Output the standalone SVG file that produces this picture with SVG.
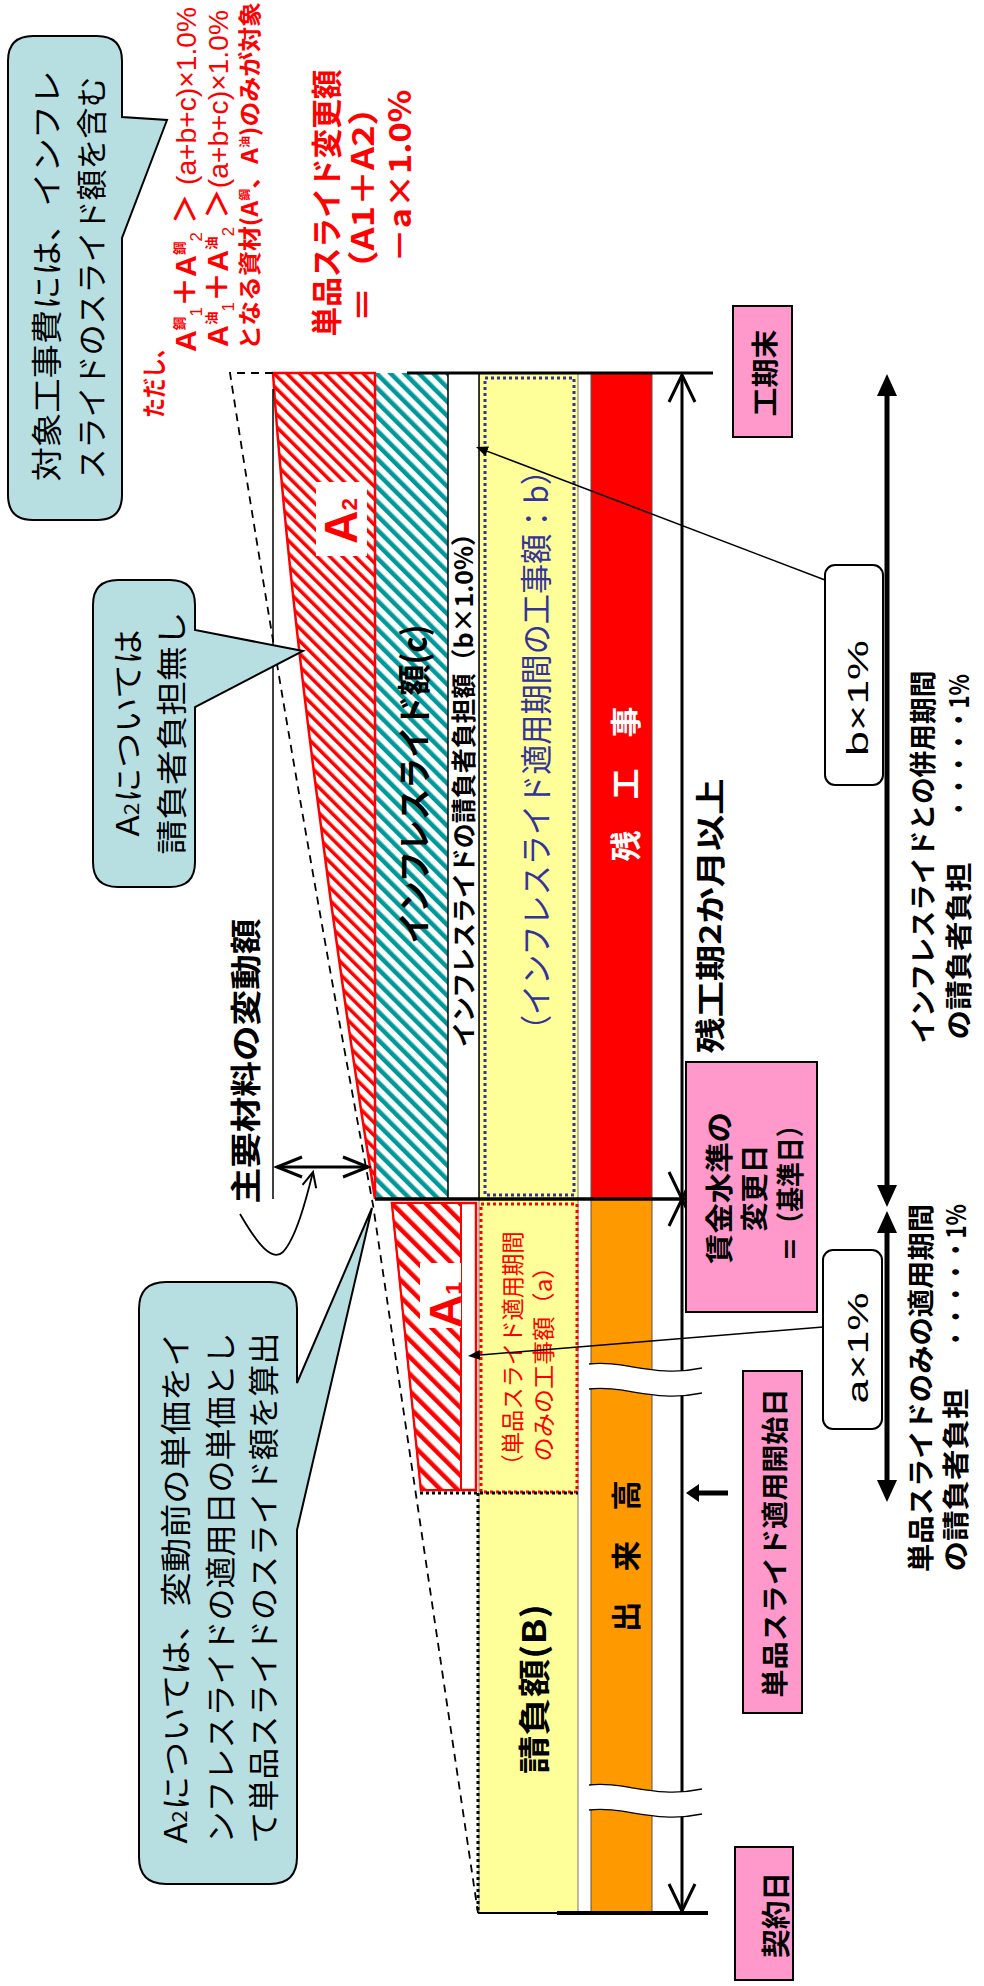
<svg xmlns="http://www.w3.org/2000/svg" width="984" height="1986" viewBox="0 0 984 1986">
<style>
text{font-family:"Noto Sans CJK JP","Noto Sans",sans-serif;}
.lat{font-family:"Liberation Sans","Noto Sans CJK JP",sans-serif;}
.b{font-weight:bold;}
.red{fill:#FF0000;}
.wht{fill:#FFFFFF;}
.blu{fill:#333399;}
.pink{fill:#FF99CC;stroke:#000;stroke-width:2;}
.callout{fill:#B7DFE2;stroke:#000;stroke-width:2;}
.rbox{fill:#FFFFFF;stroke:#000;stroke-width:2;}
.ln{stroke:#000;fill:none;}
.brk{fill:#FFFFFF;stroke:none;}
.brkl{fill:none;stroke:#000;stroke-width:1.3;}
</style>
<defs>
<pattern id="hatchRed" patternUnits="userSpaceOnUse" width="9" height="9" patternTransform="rotate(-45)"><rect width="9" height="9" fill="#fff"/><rect width="3.5" height="9" fill="#FF0000"/></pattern>
<pattern id="hatchTeal" patternUnits="userSpaceOnUse" width="10" height="10" patternTransform="rotate(-45)"><rect width="10" height="10" fill="#fff"/><rect width="4.5" height="10" fill="#009999"/></pattern>
<pattern id="hatchRedWide" patternUnits="userSpaceOnUse" width="12" height="12" patternTransform="rotate(-45)"><rect width="12" height="12" fill="#fff"/><rect width="4.5" height="12" fill="#FF0000"/></pattern>
<marker id="ahThick" markerUnits="userSpaceOnUse" viewBox="0 0 22 20" markerWidth="22" markerHeight="20" refX="6" refY="10" orient="auto-start-reverse"><path d="M0,0 L22,10 L0,20 Z" fill="#000"/></marker>
<marker id="ahSmall" markerUnits="userSpaceOnUse" viewBox="0 0 12 10" markerWidth="12" markerHeight="10" refX="6" refY="5" orient="auto"><path d="M0,0 L12,5 L0,10 Z" fill="#000"/></marker>
<marker id="ahMid" markerUnits="userSpaceOnUse" viewBox="0 0 13 18" markerWidth="13" markerHeight="18" refX="1" refY="9" orient="auto"><path d="M0,0 L13,9 L0,18 Z" fill="#000"/></marker>
<marker id="ahOpen" markerUnits="userSpaceOnUse" viewBox="0 0 30 30" markerWidth="30" markerHeight="30" refX="28" refY="15" orient="auto-start-reverse" overflow="visible"><path d="M1,2 L28,15 L1,28" fill="none" stroke="#000" stroke-width="3"/></marker>
<marker id="ahOpenS" markerUnits="userSpaceOnUse" viewBox="0 0 28 24" markerWidth="28" markerHeight="24" refX="26" refY="12" orient="auto-start-reverse" overflow="visible"><path d="M1,2 L26,12 L1,22" fill="none" stroke="#000" stroke-width="3"/></marker>
<marker id="ahOpenXS" markerUnits="userSpaceOnUse" viewBox="0 0 18 16" markerWidth="18" markerHeight="16" refX="16" refY="8" orient="auto" overflow="visible"><path d="M1,1 L16,8 L1,15" fill="none" stroke="#000" stroke-width="2"/></marker>
</defs>
<rect width="984" height="1986" fill="#FFFFFF"/>

<g id="band-yellow">
<rect x="479" y="373" width="99" height="1540" fill="#FFFF99" stroke="#777" stroke-width="1"/>
<rect x="485" y="378" width="89" height="817" fill="none" stroke="#333399" stroke-width="3" stroke-dasharray="3 3"/>
<text class="blu" font-size="32" text-anchor="middle" textLength="590" lengthAdjust="spacingAndGlyphs" transform="translate(548 750) rotate(-90)">（インフレスライド適用期間の工事額：b）</text>
<rect x="481" y="1204" width="96" height="288" fill="none" stroke="#FF0000" stroke-width="3" stroke-dasharray="3 3"/>
<text class="red" font-size="23" text-anchor="middle" textLength="245" lengthAdjust="spacingAndGlyphs" transform="translate(521 1354) rotate(-90)">（単品スライド適用期間</text>
<text class="red" font-size="23" text-anchor="middle" textLength="207" lengthAdjust="spacingAndGlyphs" transform="translate(552 1358) rotate(-90)">のみの工事額（a）</text>
<text class="b" font-size="32" text-anchor="middle" textLength="170" lengthAdjust="spacingAndGlyphs" transform="translate(546 1689) rotate(-90)">請負額(B)</text>
</g>

<g id="band-remaining">
<rect x="591" y="373" width="61" height="826" fill="#FF0000" stroke="#555" stroke-width="1"/>
<text class="b wht" font-size="31" text-anchor="middle" textLength="155" lengthAdjust="spacingAndGlyphs" transform="translate(637 784) rotate(-90)">残　工　事</text>
</g>

<g id="band-done">
<rect x="591" y="1199" width="61" height="714" fill="#FF9900" stroke="#555" stroke-width="1"/>
<text class="b" font-size="30" text-anchor="middle" textLength="152" lengthAdjust="spacingAndGlyphs" transform="translate(637 1556) rotate(-90)">出　来　高</text>
</g>

<g id="band-inflation">
<rect x="376" y="373" width="72" height="826" fill="url(#hatchTeal)"/>
<text class="b" font-size="34" text-anchor="middle" textLength="319" lengthAdjust="spacingAndGlyphs" transform="translate(427 784) rotate(-90)">インフレスライド額(c)</text>
</g>

<g id="band-burden">
<rect x="448" y="373" width="31" height="826" fill="#FFFFFF" stroke="#000" stroke-width="1.5"/>
<text class="b" font-size="25" text-anchor="middle" textLength="526" lengthAdjust="spacingAndGlyphs" transform="translate(473 784) rotate(-90)">インフレスライドの請負者負担額（b×1.0%）</text>
</g>

<g id="a2">
<path d="M273,373 H375 V1199 C335,950 288,600 273,373 Z" fill="url(#hatchRed)" stroke="#FF0000" stroke-width="2.5"/>
<rect x="316" y="482" width="51" height="74" fill="#FFFFFF"/>
<text class="lat b red" text-anchor="middle" textLength="46" lengthAdjust="spacingAndGlyphs" transform="translate(357 521) rotate(-90)"><tspan font-size="46">A</tspan><tspan font-size="22">2</tspan></text>
</g>

<g id="a1">
<path d="M392,1203 H476 V1490 H421 Z" fill="#FFFFFF" stroke="#FF0000" stroke-width="2.5"/>
<path d="M392,1203 H461 V1490 H421 Z" fill="url(#hatchRedWide)" stroke="#FF0000" stroke-width="2"/>
<rect x="420" y="1263" width="41" height="65" fill="#FFFFFF"/>
<text class="lat b red" text-anchor="middle" textLength="46" lengthAdjust="spacingAndGlyphs" transform="translate(461 1305) rotate(-90)"><tspan font-size="44">A</tspan><tspan font-size="22">1</tspan></text>
</g>

<g id="guides">
<path d="M420,1493 H578 M478,1493 V1913" fill="none" stroke="#000" stroke-width="3" stroke-dasharray="3 3"/>
<path d="M273,373 H230 Q290,760 373,1205 L478,1913" fill="none" stroke="#000" stroke-width="1.8" stroke-dasharray="8 6"/>
<path d="M273,389 V1199" class="ln" stroke-width="1.5"/>
<path d="M407,373 H713" class="ln" stroke-width="3"/>
<path d="M375,1199 H686" class="ln" stroke-width="3.5"/>
<path d="M478,1913 H708" class="ln" stroke-width="2"/>
<path d="M557,1913 H708" class="ln" stroke-width="4"/>
</g>

<g id="connectors">
<path d="M682,1199 V375" class="ln" stroke-width="3" marker-start="url(#ahOpen)" marker-end="url(#ahOpen)"/>
<path d="M682,1199 V1911" class="ln" stroke-width="3" marker-start="url(#ahOpen)" marker-end="url(#ahOpen)"/>
<path d="M887,390 V1191" class="ln" stroke-width="5" marker-start="url(#ahThick)" marker-end="url(#ahThick)"/>
<path d="M887,1227 V1486" class="ln" stroke-width="5" marker-start="url(#ahThick)" marker-end="url(#ahThick)"/>
<path d="M825,580 L481.6,449.1" class="ln" stroke-width="1.5" marker-end="url(#ahSmall)"/>
<path d="M823,1327 L474,1355.5" class="ln" stroke-width="1.5" marker-end="url(#ahSmall)"/>
<path d="M728,1493 H698" class="ln" stroke-width="5" marker-end="url(#ahMid)"/>
<path d="M277,1167 H368" class="ln" stroke-width="3" marker-start="url(#ahOpenS)" marker-end="url(#ahOpenS)"/>
<path d="M240,1214 C258,1245 272,1262 283,1252 C296,1238 306,1200 313,1172" class="ln" stroke-width="1.8" marker-end="url(#ahOpenXS)"/>
</g>

<g id="breaks">
<path class="brk" d="M589,1364 C625,1360 655,1378 702,1368 L702,1393 C655,1403 625,1385 589,1389 Z"/>
<path class="brkl" d="M589,1364 C625,1360 655,1378 702,1368 M589,1389 C625,1385 655,1403 702,1393"/>
<path class="brk" d="M589,1785 C625,1781 655,1799 702,1789 L702,1814 C655,1824 625,1806 589,1810 Z"/>
<path class="brkl" d="M589,1785 C625,1781 655,1799 702,1789 M589,1810 C625,1806 655,1824 702,1814"/>
</g>

<g id="box-kouki">
<rect class="pink" x="733" y="306" width="59" height="131"/>
<text class="b" font-size="27" text-anchor="middle" textLength="87" lengthAdjust="spacingAndGlyphs" transform="translate(775 373) rotate(-90)">工期末</text>
</g>
<g id="box-chingin">
<rect class="pink" x="686" y="1062" width="131" height="250"/>
<text class="b" font-size="28" text-anchor="middle" textLength="152" lengthAdjust="spacingAndGlyphs" transform="translate(730 1188) rotate(-90)">賃金水準の</text>
<text class="b" font-size="28" text-anchor="middle" textLength="87" lengthAdjust="spacingAndGlyphs" transform="translate(765 1188) rotate(-90)">変更日</text>
<text class="b" font-size="28" text-anchor="middle" textLength="149" lengthAdjust="spacingAndGlyphs" transform="translate(801 1187) rotate(-90)">＝（基準日）</text>
</g>
<g id="box-tanpin-start">
<rect class="pink" x="743" y="1371" width="59" height="342"/>
<text class="b" font-size="27" text-anchor="middle" textLength="309" lengthAdjust="spacingAndGlyphs" transform="translate(785 1543) rotate(-90)">単品スライド適用開始日</text>
</g>
<g id="box-keiyaku">
<rect class="pink" x="735" y="1847" width="58" height="133"/>
<text class="b" font-size="29" text-anchor="middle" textLength="86" lengthAdjust="spacingAndGlyphs" transform="translate(787 1915) rotate(-90)">契約日</text>
</g>
<g id="box-b1pct">
<rect class="rbox" x="825" y="565" width="58" height="220" rx="10"/>
<text class="lat" font-size="29" text-anchor="middle" textLength="116" lengthAdjust="spacingAndGlyphs" transform="translate(868 698) rotate(-90)">b×1%</text>
</g>
<g id="box-a1pct">
<rect class="rbox" x="823" y="1250" width="59" height="179" rx="10"/>
<text class="lat" font-size="29" text-anchor="middle" textLength="111" lengthAdjust="spacingAndGlyphs" transform="translate(868 1348) rotate(-90)">a×1%</text>
</g>

<g id="label-remaining">
<text class="b" font-size="30" text-anchor="middle" textLength="275" lengthAdjust="spacingAndGlyphs" transform="translate(721 916) rotate(-90)">残工期2か月以上</text>
</g>
<g id="label-main-material">
<text class="b" font-size="31" text-anchor="middle" textLength="285" lengthAdjust="spacingAndGlyphs" transform="translate(257 1061) rotate(-90)">主要材料の変動額</text>
</g>

<g id="note-inflation-period">
<text class="b" font-size="27" text-anchor="middle" textLength="373" lengthAdjust="spacingAndGlyphs" transform="translate(933 857) rotate(-90)">インフレスライドとの併用期間</text>
<text class="b" font-size="27" text-anchor="middle" textLength="177" lengthAdjust="spacingAndGlyphs" transform="translate(969 951) rotate(-90)">の請負者負担</text>
<text class="b" font-size="27" text-anchor="middle" textLength="146" lengthAdjust="spacingAndGlyphs" transform="translate(969 747) rotate(-90)">・・・・・1%</text>
</g>
<g id="note-tanpin-period">
<text class="b" font-size="27" text-anchor="middle" textLength="368" lengthAdjust="spacingAndGlyphs" transform="translate(931 1388) rotate(-90)">単品スライドのみの適用期間</text>
<text class="b" font-size="27" text-anchor="middle" textLength="183" lengthAdjust="spacingAndGlyphs" transform="translate(966 1480) rotate(-90)">の請負者負担</text>
<text class="b" font-size="27" text-anchor="middle" textLength="146" lengthAdjust="spacingAndGlyphs" transform="translate(966 1277) rotate(-90)">・・・・・1%</text>
</g>

<g id="callout-1">
<path class="callout" d="M33,36 H97 Q122,36 122,61 V117 L167,120 L122,238 V495 Q122,520 97,520 H33 Q8,520 8,495 V61 Q8,36 33,36 Z"/>
<text font-size="31" text-anchor="middle" textLength="411" lengthAdjust="spacingAndGlyphs" transform="translate(58 276) rotate(-90)">対象工事費には、インフレ</text>
<text font-size="31" text-anchor="middle" textLength="403" lengthAdjust="spacingAndGlyphs" transform="translate(103 278) rotate(-90)">スライドのスライド額を含む</text>
</g>
<g id="callout-2">
<path class="callout" d="M118,580 H170 Q195,580 195,605 V630 L303,651 L195,707 V862 Q195,887 170,887 H118 Q93,887 93,862 V605 Q93,580 118,580 Z"/>
<text font-size="31" text-anchor="middle" textLength="207" lengthAdjust="spacingAndGlyphs" transform="translate(139 733) rotate(-90)">A<tspan font-size="20">2</tspan>については</text>
<text font-size="31" text-anchor="middle" textLength="243" lengthAdjust="spacingAndGlyphs" transform="translate(183 733) rotate(-90)">請負者負担無し</text>
</g>
<g id="callout-3">
<path class="callout" d="M166,1282 H270 Q297,1282 297,1309 V1383 L372,1208 L297,1530 V1857 Q297,1884 270,1884 H166 Q139,1884 139,1857 V1309 Q139,1282 166,1282 Z"/>
<text font-size="31" text-anchor="middle" textLength="511" lengthAdjust="spacingAndGlyphs" transform="translate(187 1588) rotate(-90)">A<tspan font-size="20">2</tspan>については、変動前の単価をイ</text>
<text font-size="31" text-anchor="middle" textLength="511" lengthAdjust="spacingAndGlyphs" transform="translate(232 1588) rotate(-90)">ンフレスライドの適用日の単価とし</text>
<text font-size="31" text-anchor="middle" textLength="511" lengthAdjust="spacingAndGlyphs" transform="translate(275 1588) rotate(-90)">て単品スライドのスライド額を算出</text>
</g>

<g id="formula">
<text class="b red" font-size="24" text-anchor="middle" textLength="80" lengthAdjust="spacingAndGlyphs" transform="translate(163 378) rotate(-90)">ただし、</text>
<text class="lat red" textLength="345" lengthAdjust="spacingAndGlyphs" transform="translate(196 352) rotate(-90)"><tspan class="b" font-size="29">A</tspan><tspan class="b" font-size="13" dy="-12">鋼</tspan><tspan font-size="16" dy="18">1</tspan><tspan class="b" font-size="29" dy="-6">＋A</tspan><tspan class="b" font-size="13" dy="-12">鋼</tspan><tspan font-size="16" dy="18">2</tspan><tspan class="b" font-size="29" dy="-6"> ＞ </tspan><tspan font-size="27">(a+b+c)×1.0%</tspan></text>
<text class="lat red" textLength="337" lengthAdjust="spacingAndGlyphs" transform="translate(228 347) rotate(-90)"><tspan class="b" font-size="29">A</tspan><tspan class="b" font-size="13" dy="-12">油</tspan><tspan font-size="16" dy="18">1</tspan><tspan class="b" font-size="29" dy="-6">＋A</tspan><tspan class="b" font-size="13" dy="-12">油</tspan><tspan font-size="16" dy="18">2</tspan><tspan class="b" font-size="29" dy="-6"> ＞</tspan><tspan font-size="27">(a+b+c)×1.0%</tspan></text>
<text class="b red" font-size="23" textLength="348" lengthAdjust="spacingAndGlyphs" transform="translate(258 350) rotate(-90)">となる資材(A<tspan font-size="11" dy="-9">鋼</tspan><tspan dy="9">、A</tspan><tspan font-size="11" dy="-9">油</tspan><tspan dy="9">)のみが対象</tspan></text>
<text class="b red" font-size="31" text-anchor="middle" textLength="267" lengthAdjust="spacingAndGlyphs" transform="translate(338 203) rotate(-90)">単品スライド変更額</text>
<text class="b red" font-size="31" text-anchor="middle" textLength="233" lengthAdjust="spacingAndGlyphs" transform="translate(374 206) rotate(-90)">＝（A1＋A2）</text>
<text class="b red" font-size="31" text-anchor="middle" textLength="173" lengthAdjust="spacingAndGlyphs" transform="translate(411 176) rotate(-90)">－a×1.0%</text>
</g>
</svg>
